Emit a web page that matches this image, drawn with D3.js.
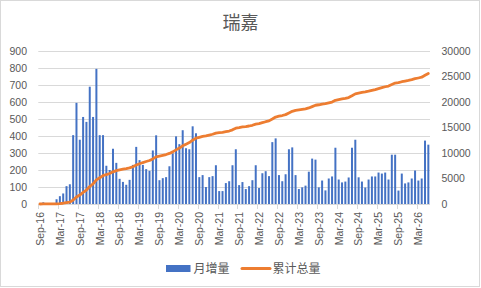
<!DOCTYPE html>
<html>
<head>
<meta charset="utf-8">
<script src="https://d3js.org/d3.v7.min.js"></script>
<style>
body { margin: 0; background: #fff; }
text { font-family: "Liberation Sans", "Noto Sans CJK SC", sans-serif; fill: #595959; }
.cjk { font-family: "Noto Sans CJK SC", sans-serif; }
</style>
</head>
<body>
<div id="chart"></div>
<script>
// monthly values, Sep-16 .. Jun-26
var monthly = [
  3, 10, 0, 0, 0, 28, 46, 62, 105, 116,
  405, 595, 378, 512, 483, 690, 512, 795, 405, 405,
  225, 200, 325, 242, 148, 130, 113, 142, 230, 336,
  258, 230, 205, 195, 315, 404, 140, 152, 158, 222,
  298, 398, 352, 434, 328, 322, 457, 416, 158, 170,
  100, 158, 164, 228, 76, 76, 123, 134, 228, 322,
  111, 129, 88, 105, 140, 228, 94, 181, 193, 164,
  364, 386, 170, 134, 175, 322, 333, 170, 88, 98,
  108, 190, 267, 261, 98, 138, 80, 150, 162, 331,
  144, 127, 132, 156, 331, 378, 157, 132, 97, 144,
  162, 162, 185, 179, 185, 144, 290, 290, 79, 179,
  121, 127, 150, 197, 138, 150, 373, 349
];
var fmt = d3.timeFormat("%b-%y");
var months = d3.timeMonth.range(new Date(2016, 8, 1), new Date(2026, 6, 1)).map(fmt);
// running total = 累计总量
var total = Array.from(d3.cumsum(monthly));

var tickLabels = ["Sep-16","Mar-17","Sep-17","Mar-18","Sep-18","Mar-19","Sep-19","Mar-20",
  "Sep-20","Mar-21","Sep-21","Mar-22","Sep-22","Mar-23","Sep-23","Mar-24","Sep-24",
  "Mar-25","Sep-25","Mar-26"];
var leftTicks = [0, 100, 200, 300, 400, 500, 600, 700, 800, 900];
var rightTicks = [0, 5000, 10000, 15000, 20000, 25000, 30000];
var seriesNames = ["月增量", "累计总量"];

var W = 481, H = 288;
var svg = d3.select("#chart").append("svg").attr("width", W).attr("height", H);

svg.append("rect").attr("x", 0.5).attr("y", 0.5).attr("width", 479).attr("height", 286)
  .attr("fill", "#fff").attr("stroke", "#d9d9d9");

var x = d3.scaleBand().domain(months).range([38.3, 430]).paddingInner(0.4).paddingOuter(0.2);
var y = d3.scaleLinear().domain([0, 900]).range([204, 51]);
var y2 = d3.scaleLinear().domain([0, 30000]).range([204, 51]);

// gridlines
svg.append("g").selectAll("line").data(leftTicks).enter().append("line")
  .attr("x1", 38.3).attr("x2", 430)
  .attr("y1", function(d){ return Math.round(y(d)) + 0.5; })
  .attr("y2", function(d){ return Math.round(y(d)) + 0.5; })
  .attr("stroke", "#d9d9d9").attr("stroke-width", 1);

// left labels
svg.append("g").selectAll("text").data(leftTicks).enter().append("text")
  .attr("x", 27).attr("y", function(d){ return y(d) + 3.8; })
  .attr("text-anchor", "end").attr("font-size", "10.5px").text(function(d){ return d; });

// right labels
svg.append("g").selectAll("text").data(rightTicks).enter().append("text")
  .attr("x", 441.5).attr("y", function(d){ return y2(d) + 3.8; })
  .attr("text-anchor", "start").attr("font-size", "10.5px").text(function(d){ return d; });

// bars
svg.append("g").selectAll("rect").data(monthly).enter().append("rect")
  .attr("x", function(d, i){ return x(months[i]); })
  .attr("width", x.bandwidth())
  .attr("y", function(d){ return y(d); })
  .attr("height", function(d){ return y(0) - y(d); })
  .attr("fill", "#4472c4");

// x axis ticks + labels
var step = x.step();
svg.append("g").selectAll("line").data(tickLabels).enter().append("line")
  .attr("x1", function(d){ return Math.round(x(d) - step * 0.2) + 0.5; })
  .attr("x2", function(d){ return Math.round(x(d) - step * 0.2) + 0.5; })
  .attr("y1", 204).attr("y2", 209)
  .attr("stroke", "#d9d9d9");
svg.append("g").selectAll("text").data(tickLabels).enter().append("text")
  .attr("transform", function(d){
    return "translate(" + (x(d) + x.bandwidth() / 2 + 3.8) + ",212) rotate(-90)";
  })
  .attr("text-anchor", "end").attr("font-size", "10.5px").text(function(d){ return d; });

// cumulative line
var line = d3.line()
  .x(function(d, i){ return x(months[i]) + x.bandwidth() / 2; })
  .y(function(d){ return y2(d); });
svg.append("path").datum(total).attr("d", line)
  .attr("fill", "none").attr("stroke", "#ed7d31").attr("stroke-width", 2.8)
  .attr("stroke-linejoin", "round").attr("stroke-linecap", "round");

// title
svg.append("text").attr("class", "cjk").attr("x", 240.5).attr("y", 29)
  .attr("text-anchor", "middle").attr("font-size", "18px").text("瑞嘉");

// legend
svg.append("rect").attr("x", 166).attr("y", 265).attr("width", 24.5).attr("height", 7).attr("fill", "#4472c4");
svg.append("text").attr("class", "cjk").attr("x", 193.5).attr("y", 272.5).attr("font-size", "12px").text(seriesNames[0]);
svg.append("line").attr("x1", 242).attr("x2", 270).attr("y1", 268.5).attr("y2", 268.5)
  .attr("stroke", "#ed7d31").attr("stroke-width", 3).attr("stroke-linecap", "round");
svg.append("text").attr("class", "cjk").attr("x", 272.5).attr("y", 272.5).attr("font-size", "12px").text(seriesNames[1]);
</script>
</body>
</html>
